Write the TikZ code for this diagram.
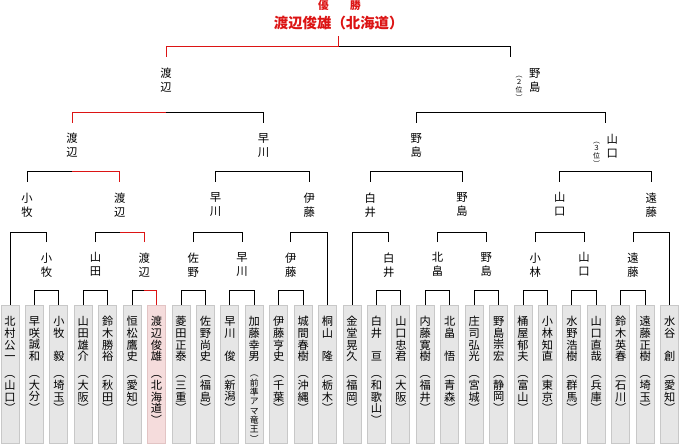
\documentclass[tikz,border=0pt]{standalone}
\usepackage{fontspec}
\setmainfont{Noto Sans CJK JP}
\usepackage{xcolor}
\usepackage{tikz}

\definecolor{winred}{RGB}{220,20,20}
\definecolor{boxfill}{RGB}{230,230,230}
\definecolor{boxline}{RGB}{200,200,200}
\definecolor{winfill}{RGB}{245,220,220}
\definecolor{winline}{RGB}{226,196,196}

\newcommand{\boxfont}{\fontsize{8.4}{8.75}\selectfont}
\newcommand{\namefont}{\fontsize{8.5}{10.5}\selectfont}
\newcommand{\rankfont}{\fontsize{5.2}{5.2}\selectfont}
\newcommand{\tate}[1]{\parbox[c][87pt][t]{13pt}{\centering\boxfont #1}}

\tikzset{
  tline/.style={line width=0.75pt},
  win/.style={line width=0.75pt, draw=winred},
  pbox/.style={draw=boxline, fill=boxfill, line width=0.75pt, minimum width=13.5pt,
    minimum height=103.5pt, inner sep=0pt, anchor=north},
  pboxwin/.style={pbox, draw=winline, fill=winfill},
  pname/.style={font=\namefont, align=center, inner sep=0pt, outer ysep=8pt, anchor=north},
  champ/.style={font=\bfseries\fontsize{10.8}{12}\selectfont, text=winred, inner sep=0pt,
    outer ysep=4.5pt, anchor=base},
  champtitle/.style={font=\bfseries\fontsize{8}{8}\selectfont, text=winred, inner sep=0pt,
    anchor=base}
}

\begin{document}
\begin{tikzpicture}[x=0.75pt, y=-0.75pt]
            \useasboundingbox (0,0) rectangle (680,445);
            % players
            \node[pbox] (p1) at (10,305) {\tate{北\\村\\公\\一\\[4pt]︵\\山\\口\\︶}};
            \node[pbox] (p2) at (34.43,305) {\tate{早\\咲\\誠\\和\\[4pt]︵\\大\\分\\︶}};
            \node[pbox] (p3) at (58.86,305) {\tate{小\\牧\\　\\毅\\[4pt]︵\\埼\\玉\\︶}};
            \node[pbox] (p4) at (83.29,305) {\tate{山\\田\\雄\\介\\[4pt]︵\\大\\阪\\︶}};
            \node[pbox] (p5) at (107.72,305) {\tate{鈴\\木\\勝\\裕\\[4pt]︵\\秋\\田\\︶}};
            \node[pbox] (p6) at (132.15,305) {\tate{恒\\松\\鷹\\史\\[4pt]︵\\愛\\知\\︶}};
            \node[pboxwin] (p7) at (156.58,305) {\tate{渡\\辺\\俊\\雄\\[4pt]︵\\北\\海\\道\\︶}};
            \node[pbox] (p8) at (181.01,305) {\tate{菱\\田\\正\\泰\\[4pt]︵\\三\\重\\︶}};
            \node[pbox] (p9) at (205.44,305) {\tate{佐\\野\\尚\\史\\[4pt]︵\\福\\島\\︶}};
            \node[pbox] (p10) at (229.87,305) {\tate{早\\川\\　\\俊\\[4pt]︵\\新\\潟\\︶}};
            \node[pbox] (p11) at (254.30,305) {\tate{加\\藤\\幸\\男\par\vspace{5pt}\fontsize{6.6}{7}\selectfont ︵\\前\\準\\ア\\マ\\竜\\王\\︶}};
            \node[pbox] (p12) at (278.73,305) {\tate{伊\\藤\\亨\\史\\[4pt]︵\\千\\葉\\︶}};
            \node[pbox] (p13) at (303.16,305) {\tate{城\\間\\春\\樹\\[4pt]︵\\沖\\縄\\︶}};
            \node[pbox] (p14) at (327.59,305) {\tate{桐\\山\\　\\隆\\[4pt]︵\\栃\\木\\︶}};
            \node[pbox] (p15) at (352.02,305) {\tate{金\\堂\\晃\\久\\[4pt]︵\\福\\岡\\︶}};
            \node[pbox] (p16) at (376.45,305) {\tate{白\\井\\　\\亘\\[4pt]︵\\和\\歌\\山\\︶}};
            \node[pbox] (p17) at (400.88,305) {\tate{山\\口\\忠\\君\\[4pt]︵\\大\\阪\\︶}};
            \node[pbox] (p18) at (425.31,305) {\tate{内\\藤\\寛\\樹\\[4pt]︵\\福\\井\\︶}};
            \node[pbox] (p19) at (449.74,305) {\tate{北\\畠\\　\\悟\\[4pt]︵\\青\\森\\︶}};
            \node[pbox] (p20) at (474.17,305) {\tate{庄\\司\\弘\\光\\[4pt]︵\\宮\\城\\︶}};
            \node[pbox] (p21) at (498.60,305) {\tate{野\\島\\崇\\宏\\[4pt]︵\\静\\岡\\︶}};
            \node[pbox] (p22) at (523.03,305) {\tate{桶\\屋\\郁\\夫\\[4pt]︵\\富\\山\\︶}};
            \node[pbox] (p23) at (547.46,305) {\tate{小\\林\\知\\直\\[4pt]︵\\東\\京\\︶}};
            \node[pbox] (p24) at (571.89,305) {\tate{水\\野\\浩\\樹\\[4pt]︵\\群\\馬\\︶}};
            \node[pbox] (p25) at (596.32,305) {\tate{山\\口\\直\\哉\\[4pt]︵\\兵\\庫\\︶}};
            \node[pbox] (p26) at (620.75,305) {\tate{鈴\\木\\英\\春\\[4pt]︵\\石\\川\\︶}};
            \node[pbox] (p27) at (645.18,305) {\tate{遠\\藤\\正\\樹\\[4pt]︵\\埼\\玉\\︶}};
            \node[pbox] (p28) at (669.61,305) {\tate{水\\谷\\　\\創\\[4pt]︵\\愛\\知\\︶}};
            % second round winners
            \node[pname] (komaki2) at (46.65,242) {小\\牧};
            \node[pname] (yamada2) at (95.5,242) {山\\田};
            \node[pname] (watanabe2) at (144.37,242) {渡\\辺};
            \node[pname] (sano2) at (193.2,242) {佐\\野};
            \node[pname] (hayakawa2) at (242.1,242) {早\\川};
            \node[pname] (ito2) at (290.9,242) {伊\\藤};
            \node[pname] (shirai2) at (388.7,242) {白\\井};
            \node[pname] (kitabatake2) at (437.5,242) {北\\畠};
            \node[pname] (nojima2) at (486.4,242) {野\\島};
            \node[pname] (kobayashi2) at (535.2,242) {小\\林};
            \node[pname] (yamaguchi2) at (584.1,242) {山\\口};
            \node[pname] (endo2) at (633.0,242) {遠\\藤};
            % third round
            \node[pname] (komaki3) at (27,182) {小\\牧};
            \node[pname] (watanabe3) at (119.9,182) {渡\\辺};
            \node[pname] (hayakawa3) at (215.5,182) {早\\川};
            \node[pname] (ito3) at (309.2,182) {伊\\藤};
            \node[pname] (shirai3) at (370.4,182) {白\\井};
            \node[pname] (nojima3) at (462.0,182) {野\\島};
            \node[pname] (yamaguchi3) at (559.7,182) {山\\口};
            \node[pname] (endo3) at (651.3,182) {遠\\藤};
            % best four
            \node[pname] (watanabe4) at (72,122.7) {渡\\辺};
            \node[pname] (hayakawa4) at (263.5,122.7) {早\\川};
            \node[pname] (nojima4) at (416.2,122.7) {野\\島};
            \node[pname] (yamaguchi4) at (605.5,122.7) {{\rankfont\begin{tabular}[t]{@{}c@{}}︵\\３\\位\\︶\end{tabular}}\hspace{5pt}\begin{tabular}[t]{@{}c@{}}山\\口\end{tabular}};
            % final
            \node[pname] (watanabe5) at (166,57) {渡\\辺};
            \node[pname] (nojima5) at (528,57) {{\rankfont\begin{tabular}[t]{@{}c@{}}︵\\２\\位\\︶\end{tabular}}\hspace{5pt}\begin{tabular}[t]{@{}c@{}}野\\島\end{tabular}};
            \coordinate (nojima5in) at (510.9,57);
            \node[champtitle] (title) at (339.5,10) {優　　勝};
            \node[champ] (winner) at (338.7,29) {渡辺俊雄（北海道）};
            % first round
            \draw[tline] (p2.north) -- ++(0,-14.3) -| (p3.north);
            \draw[tline] (p4.north) -- ++(0,-14.3) -| (p5.north);
            \draw[tline] (p6.north) -- ++(0,-14.3) -| (p7.north);
            \draw[tline] (p8.north) -- ++(0,-14.3) -| (p9.north);
            \draw[tline] (p10.north) -- ++(0,-14.3) -| (p11.north);
            \draw[tline] (p12.north) -- ++(0,-14.3) -| (p13.north);
            \draw[tline] (p16.north) -- ++(0,-14.3) -| (p17.north);
            \draw[tline] (p18.north) -- ++(0,-14.3) -| (p19.north);
            \draw[tline] (p20.north) -- ++(0,-14.3) -| (p21.north);
            \draw[tline] (p22.north) -- ++(0,-14.3) -| (p23.north);
            \draw[tline] (p24.north) -- ++(0,-14.3) -| (p25.north);
            \draw[tline] (p26.north) -- ++(0,-14.3) -| (p27.north);
            % second round
            \draw[tline] (komaki2.north) -- ++(0,-10) -| (p1.north);
            \draw[tline] (yamada2.north) -- ++(0,-10) -| (watanabe2.north);
            \draw[tline] (sano2.north) -- ++(0,-10) -| (hayakawa2.north);
            \draw[tline] (ito2.north) -- ++(0,-10) -| (p14.north);
            \draw[tline] (shirai2.north) -- ++(0,-10) -| (p15.north);
            \draw[tline] (kitabatake2.north) -- ++(0,-10) -| (nojima2.north);
            \draw[tline] (kobayashi2.north) -- ++(0,-10) -| (yamaguchi2.north);
            \draw[tline] (endo2.north) -- ++(0,-10) -| (p28.north);
            % third round
            \draw[tline] (komaki3.north) -- ++(0,-10) -| (watanabe3.north);
            \draw[tline] (hayakawa3.north) -- ++(0,-10) -| (ito3.north);
            \draw[tline] (shirai3.north) -- ++(0,-10) -| (nojima3.north);
            \draw[tline] (yamaguchi3.north) -- ++(0,-10) -| (endo3.north);
            % semifinals and final
            \draw[tline] (watanabe4.north) -- ++(0,-10) -| (hayakawa4.north);
            \draw[tline] (nojima4.north) -- ++(0,-10) -| (yamaguchi4.north);
            \draw[tline] (watanabe5.north) -- ++(0,-10) -| (nojima5in);
            % winner's path
            \draw[win] (p7.north) -- ++(0,-14.3) coordinate (w1) -- (w1 -| watanabe2);
            \draw[win] (watanabe2.north) -- ++(0,-10) coordinate (w2) -- (w2 -| watanabe3);
            \draw[win] (watanabe3.north) -- ++(0,-10) coordinate (w3) -- (w3 -| watanabe4);
            \draw[win] (watanabe4.north) -- ++(0,-10) coordinate (w4) -- (w4 -| watanabe5);
            \draw[win] (watanabe5.north) -- ++(0,-10) -| (winner.south);
\end{tikzpicture}
\end{document}
